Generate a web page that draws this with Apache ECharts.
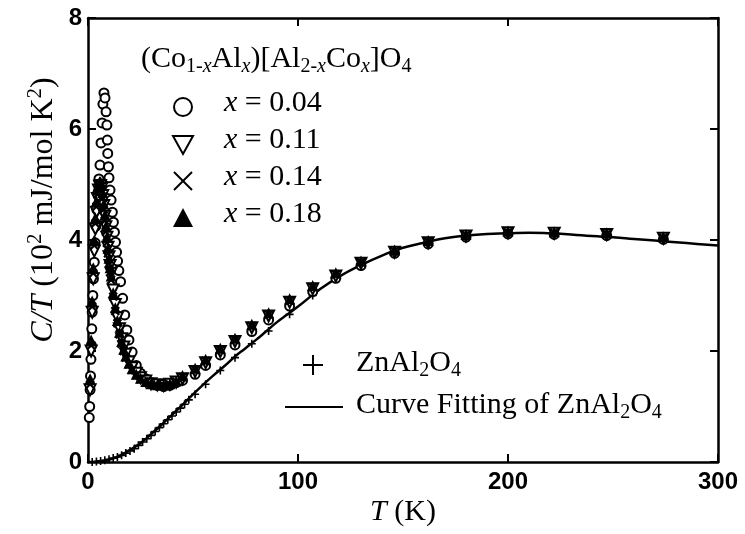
<!DOCTYPE html>
<html>
<head>
<meta charset="utf-8">
<script src="https://cdn.jsdelivr.net/npm/echarts@6/dist/echarts.min.js"></script>
<style>
  html, body { margin: 0; padding: 0; background: #fff; }
  #chart { width: 745px; height: 534px; }
</style>
</head>
<body>
<div id="chart"></div>
<script>
// Specific heat C/T of (Co1-xAlx)[Al2-xCox]O4 spinels and ZnAl2O4 lattice reference

// x = 0.04 (open circles): temperature (K) and C/T (10^2 mJ/mol K^2)
const t004 = [0.6, 0.8, 1.0, 1.2, 1.4, 1.6, 1.8, 2.0, 2.3, 2.6, 3.0, 3.4, 3.8, 4.2, 4.7, 5.2, 5.7, 6.2, 6.7, 7.1, 7.6, 8.1, 8.6, 9.0, 9.2, 9.4, 9.7, 10.0, 10.5, 11.0, 11.6, 12.1, 12.6, 13.1, 13.6, 14.1, 14.7, 15.5, 16.5, 17.5, 18.5, 19.5, 21, 23, 25, 27.5, 30, 33, 36, 39, 42, 45, 51, 56, 63, 70, 78, 86, 96, 107, 118, 130, 146, 162, 180, 200, 222, 247, 274];
const c004 = [0.8, 1.0, 1.3, 1.55, 1.85, 2.1, 2.4, 2.7, 3.0, 3.3, 3.6, 3.95, 4.25, 4.55, 4.85, 5.1, 5.35, 5.75, 6.11, 6.45, 6.65, 6.56, 6.31, 6.07, 5.8, 5.56, 5.32, 5.12, 4.9, 4.72, 4.5, 4.32, 4.14, 3.96, 3.78, 3.62, 3.45, 3.25, 2.95, 2.65, 2.38, 2.2, 1.98, 1.74, 1.6, 1.5, 1.43, 1.38, 1.36, 1.38, 1.43, 1.47, 1.58, 1.74, 1.93, 2.11, 2.35, 2.56, 2.81, 3.07, 3.31, 3.54, 3.76, 3.93, 4.05, 4.11, 4.1, 4.08, 4.01];

// x = 0.11, 0.14, 0.18 share the same temperature points
const tCo = [1.0, 1.5, 2.0, 2.5, 3.0, 3.5, 4.0, 4.5, 5.0, 5.5, 6.0, 6.5, 7.0, 7.5, 8.0, 8.5, 9.0, 9.5, 10, 10.5, 11, 12, 13, 14, 15, 16, 17, 18, 19.5, 21, 23, 25, 27.5, 30, 33, 36, 39, 42, 45, 51, 56, 63, 70, 78, 86, 96, 107, 118, 130, 146, 162, 180, 200, 222, 247, 274];
const c011 = [1.3, 2.0, 2.7, 3.3, 3.8, 4.2, 4.5, 4.75, 4.9, 4.97, 4.98, 4.93, 4.8, 4.62, 4.43, 4.24, 4.05, 3.87, 3.7, 3.54, 3.4, 3.1, 2.84, 2.6, 2.4, 2.22, 2.07, 1.94, 1.8, 1.7, 1.6, 1.52, 1.46, 1.41, 1.39, 1.38, 1.4, 1.44, 1.5, 1.63, 1.79, 1.99, 2.17, 2.42, 2.63, 2.88, 3.12, 3.35, 3.58, 3.78, 3.95, 4.07, 4.13, 4.12, 4.1, 4.03];
const c014 = [1.4, 2.1, 2.8, 3.4, 3.9, 4.3, 4.6, 4.82, 4.95, 5.0, 4.98, 4.9, 4.75, 4.55, 4.35, 4.15, 3.95, 3.76, 3.58, 3.42, 3.28, 2.98, 2.72, 2.5, 2.3, 2.13, 2.0, 1.88, 1.76, 1.66, 1.56, 1.49, 1.43, 1.4, 1.38, 1.38, 1.4, 1.45, 1.53, 1.66, 1.82, 2.02, 2.2, 2.45, 2.66, 2.91, 3.15, 3.38, 3.6, 3.8, 3.97, 4.09, 4.14, 4.13, 4.11, 4.04];
const c018 = [1.5, 2.2, 2.9, 3.5, 4.0, 4.4, 4.7, 4.9, 5.0, 5.05, 5.05, 4.98, 4.85, 4.65, 4.45, 4.25, 4.05, 3.85, 3.67, 3.5, 3.35, 3.05, 2.78, 2.55, 2.34, 2.17, 2.03, 1.91, 1.78, 1.68, 1.58, 1.51, 1.45, 1.41, 1.39, 1.39, 1.41, 1.46, 1.56, 1.69, 1.85, 2.05, 2.23, 2.48, 2.69, 2.94, 3.18, 3.41, 3.62, 3.82, 3.99, 4.1, 4.16, 4.15, 4.13, 4.06];

// ZnAl2O4 measured points
const tZn = [2, 4, 6, 8, 10, 12, 14, 16, 18, 20, 22, 24, 26, 28, 30, 32, 34, 36, 38, 40, 42, 44, 46, 48, 51, 56, 63, 70, 78, 86, 96, 107, 118, 130, 146, 162, 180, 200, 222, 247, 274];
const cZn = [0.0, 0.01, 0.02, 0.03, 0.05, 0.07, 0.09, 0.12, 0.16, 0.2, 0.24, 0.3, 0.36, 0.42, 0.48, 0.55, 0.62, 0.69, 0.76, 0.83, 0.9, 0.97, 1.04, 1.12, 1.22, 1.4, 1.65, 1.88, 2.13, 2.36, 2.66, 3.0, 3.3, 3.55, 3.8, 3.95, 4.07, 4.12, 4.12, 4.07, 4.0];

// Fitted curve for ZnAl2O4
const tFit = [0, 5, 10, 15, 20, 25, 30, 35, 40, 45, 50, 55, 60, 65, 70, 75, 80, 85, 90, 95, 100, 110, 120, 130, 140, 150, 160, 170, 180, 190, 200, 210, 220, 230, 240, 250, 260, 270, 280, 290, 300];
const cFit = [0, 0.01, 0.04, 0.11, 0.22, 0.34, 0.5, 0.67, 0.85, 1.03, 1.22, 1.4, 1.57, 1.73, 1.9, 2.05, 2.2, 2.36, 2.52, 2.66, 2.8, 3.1, 3.35, 3.55, 3.72, 3.86, 3.95, 4.03, 4.08, 4.11, 4.12, 4.13, 4.12, 4.1, 4.07, 4.05, 4.02, 3.99, 3.96, 3.93, 3.9];

// Axis ticks
const xTicks = [0, 100, 200, 300];
const yTicks = [0, 2, 4, 6, 8];

const pairs = (ts, vs) => ts.map((t, i) => [t, vs[i]]);

const SERIF = "'Liberation Serif', 'Times New Roman', serif";
const SANS = "'Liberation Sans', Arial, sans-serif";

const rich = {
  n:   { fontFamily: SERIF, fontSize: 30, lineHeight: 36, color: '#000' },
  i:   { fontFamily: SERIF, fontSize: 30, lineHeight: 36, fontStyle: 'italic', color: '#000' },
  sb:  { fontFamily: SERIF, fontSize: 20, lineHeight: 20, verticalAlign: 'bottom', color: '#000' },
  sbi: { fontFamily: SERIF, fontSize: 20, lineHeight: 20, verticalAlign: 'bottom', fontStyle: 'italic', color: '#000' },
  sp:  { fontFamily: SERIF, fontSize: 20, lineHeight: 20, verticalAlign: 'top', color: '#000' }
};
const richY = {
  n:  { fontFamily: SERIF, fontSize: 32, lineHeight: 38, color: '#000' },
  i:  { fontFamily: SERIF, fontSize: 32, lineHeight: 38, fontStyle: 'italic', color: '#000' },
  sp: { fontFamily: SERIF, fontSize: 21, lineHeight: 21, verticalAlign: 'top', color: '#000' }
};

const PLUS = 'path://M4,0H6V4H10V6H6V10H4V6H0V4H4Z';

const axisBase = {
  type: 'value',
  axisLine: { show: true, onZero: false, lineStyle: { color: '#000', width: 2.5 } },
  axisTick: { show: true, inside: true, length: 8, lineStyle: { color: '#000', width: 2 } },
  splitLine: { show: false }
};
const labelStyle = { color: '#000', fontFamily: SANS, fontWeight: 'bold', fontSize: 24 };

const chart = echarts.init(document.getElementById('chart'), null, { renderer: 'canvas' });

const legendRows = ['0.04', '0.11', '0.14', '0.18'];
const rowY = [107, 144, 181, 218];

const graphics = [
  // composition title
  { type: 'text', left: 141, top: 44, z: 10,
    style: { text: '{n|(Co}{sb|1-}{sbi|x}{n|Al}{sbi|x}{n|)[Al}{sb|2-}{sbi|x}{n|Co}{sbi|x}{n|]O}{sb|4}', rich: rich } },
  // legend markers
  { type: 'circle', shape: { cx: 183, cy: rowY[0], r: 9 }, style: { fill: 'none', stroke: '#000', lineWidth: 2 }, z: 10 },
  { type: 'polygon', shape: { points: [[173, rowY[1] - 8], [193, rowY[1] - 8], [183, rowY[1] + 10]] }, style: { fill: 'none', stroke: '#000', lineWidth: 2 }, z: 10 },
  { type: 'polyline', shape: { points: [[174, rowY[2] - 9], [192, rowY[2] + 9]] }, style: { stroke: '#000', lineWidth: 2 }, z: 10 },
  { type: 'polyline', shape: { points: [[192, rowY[2] - 9], [174, rowY[2] + 9]] }, style: { stroke: '#000', lineWidth: 2 }, z: 10 },
  { type: 'polygon', shape: { points: [[173, rowY[3] + 9], [193, rowY[3] + 9], [183, rowY[3] - 10]] }, style: { fill: '#000' }, z: 10 },
  // ZnAl2O4 legend
  { type: 'polyline', shape: { points: [[303, 365], [323, 365]] }, style: { stroke: '#000', lineWidth: 2 }, z: 10 },
  { type: 'polyline', shape: { points: [[313, 355], [313, 375]] }, style: { stroke: '#000', lineWidth: 2 }, z: 10 },
  { type: 'text', left: 356, top: 348, z: 10, style: { text: '{n|ZnAl}{sb|2}{n|O}{sb|4}', rich: rich } },
  { type: 'polyline', shape: { points: [[285, 407], [343, 407]] }, style: { stroke: '#000', lineWidth: 2 }, z: 10 },
  { type: 'text', left: 356, top: 390, z: 10, style: { text: '{n|Curve Fitting of ZnAl}{sb|2}{n|O}{sb|4}', rich: rich } },
  // y axis title
  { type: 'text', x: 44, y: 210, rotation: Math.PI / 2, z: 10,
    style: { text: '{i|C/T}{n| (10}{sp|2}{n| mJ/mol K}{sp|2}{n|)}', rich: richY, align: 'center', verticalAlign: 'middle' } },
  // x axis title
  { type: 'text', x: 403, y: 512, z: 10,
    style: { text: '{i|T}{n| (K)}', rich: rich, align: 'center', verticalAlign: 'middle' } }
];
legendRows.forEach((v, k) => {
  graphics.push({ type: 'text', left: 224, top: rowY[k] - 19, z: 10, style: { text: '{i|x}{n| = ' + v + '}', rich: rich } });
});

chart.setOption({
  animation: false,
  backgroundColor: '#fff',
  grid: { left: 88, right: 27, top: 18, bottom: 72, containLabel: false },
  xAxis: [
    Object.assign({}, axisBase, { position: 'bottom', min: xTicks[0], max: xTicks[xTicks.length - 1], interval: 100,
      axisLabel: Object.assign({ margin: 8 }, labelStyle) }),
    Object.assign({}, axisBase, { position: 'top', min: xTicks[0], max: xTicks[xTicks.length - 1], interval: 100,
      axisLabel: { show: false } })
  ],
  yAxis: [
    Object.assign({}, axisBase, { position: 'left', min: yTicks[0], max: yTicks[yTicks.length - 1], interval: 2,
      axisLabel: Object.assign({ margin: 6 }, labelStyle) }),
    Object.assign({}, axisBase, { position: 'right', min: yTicks[0], max: yTicks[yTicks.length - 1], interval: 2,
      axisLabel: { show: false } })
  ],
  series: [
    { name: 'Curve Fitting of ZnAl2O4', type: 'line', data: pairs(tFit, cFit), smooth: true, showSymbol: false,
      lineStyle: { color: '#000', width: 2.5 }, z: 2 },
    { name: 'ZnAl2O4', type: 'scatter', data: pairs(tZn, cZn), symbol: PLUS, symbolSize: 8,
      itemStyle: { color: '#000', opacity: 1 }, z: 3 },
    { name: 'x = 0.04', type: 'scatter', data: pairs(t004, c004), symbol: 'emptyCircle', symbolSize: 9,
      itemStyle: { color: '#000', borderWidth: 2, opacity: 1 }, z: 4 },
    { name: 'x = 0.11', type: 'scatter', data: pairs(tCo, c011), symbol: 'emptyTriangle', symbolRotate: 180, symbolSize: 11,
      itemStyle: { color: '#000', borderWidth: 1.5, opacity: 1 }, z: 5 },
    { name: 'x = 0.14', type: 'scatter', data: pairs(tCo, c014), symbol: PLUS, symbolRotate: 45, symbolSize: 11,
      itemStyle: { color: '#000', opacity: 1 }, z: 5 },
    { name: 'x = 0.18', type: 'scatter', data: pairs(tCo, c018), symbol: 'triangle', symbolSize: 11,
      itemStyle: { color: '#000', opacity: 1 }, z: 6 }
  ],
  graphic: graphics
});
</script>
</body>
</html>
